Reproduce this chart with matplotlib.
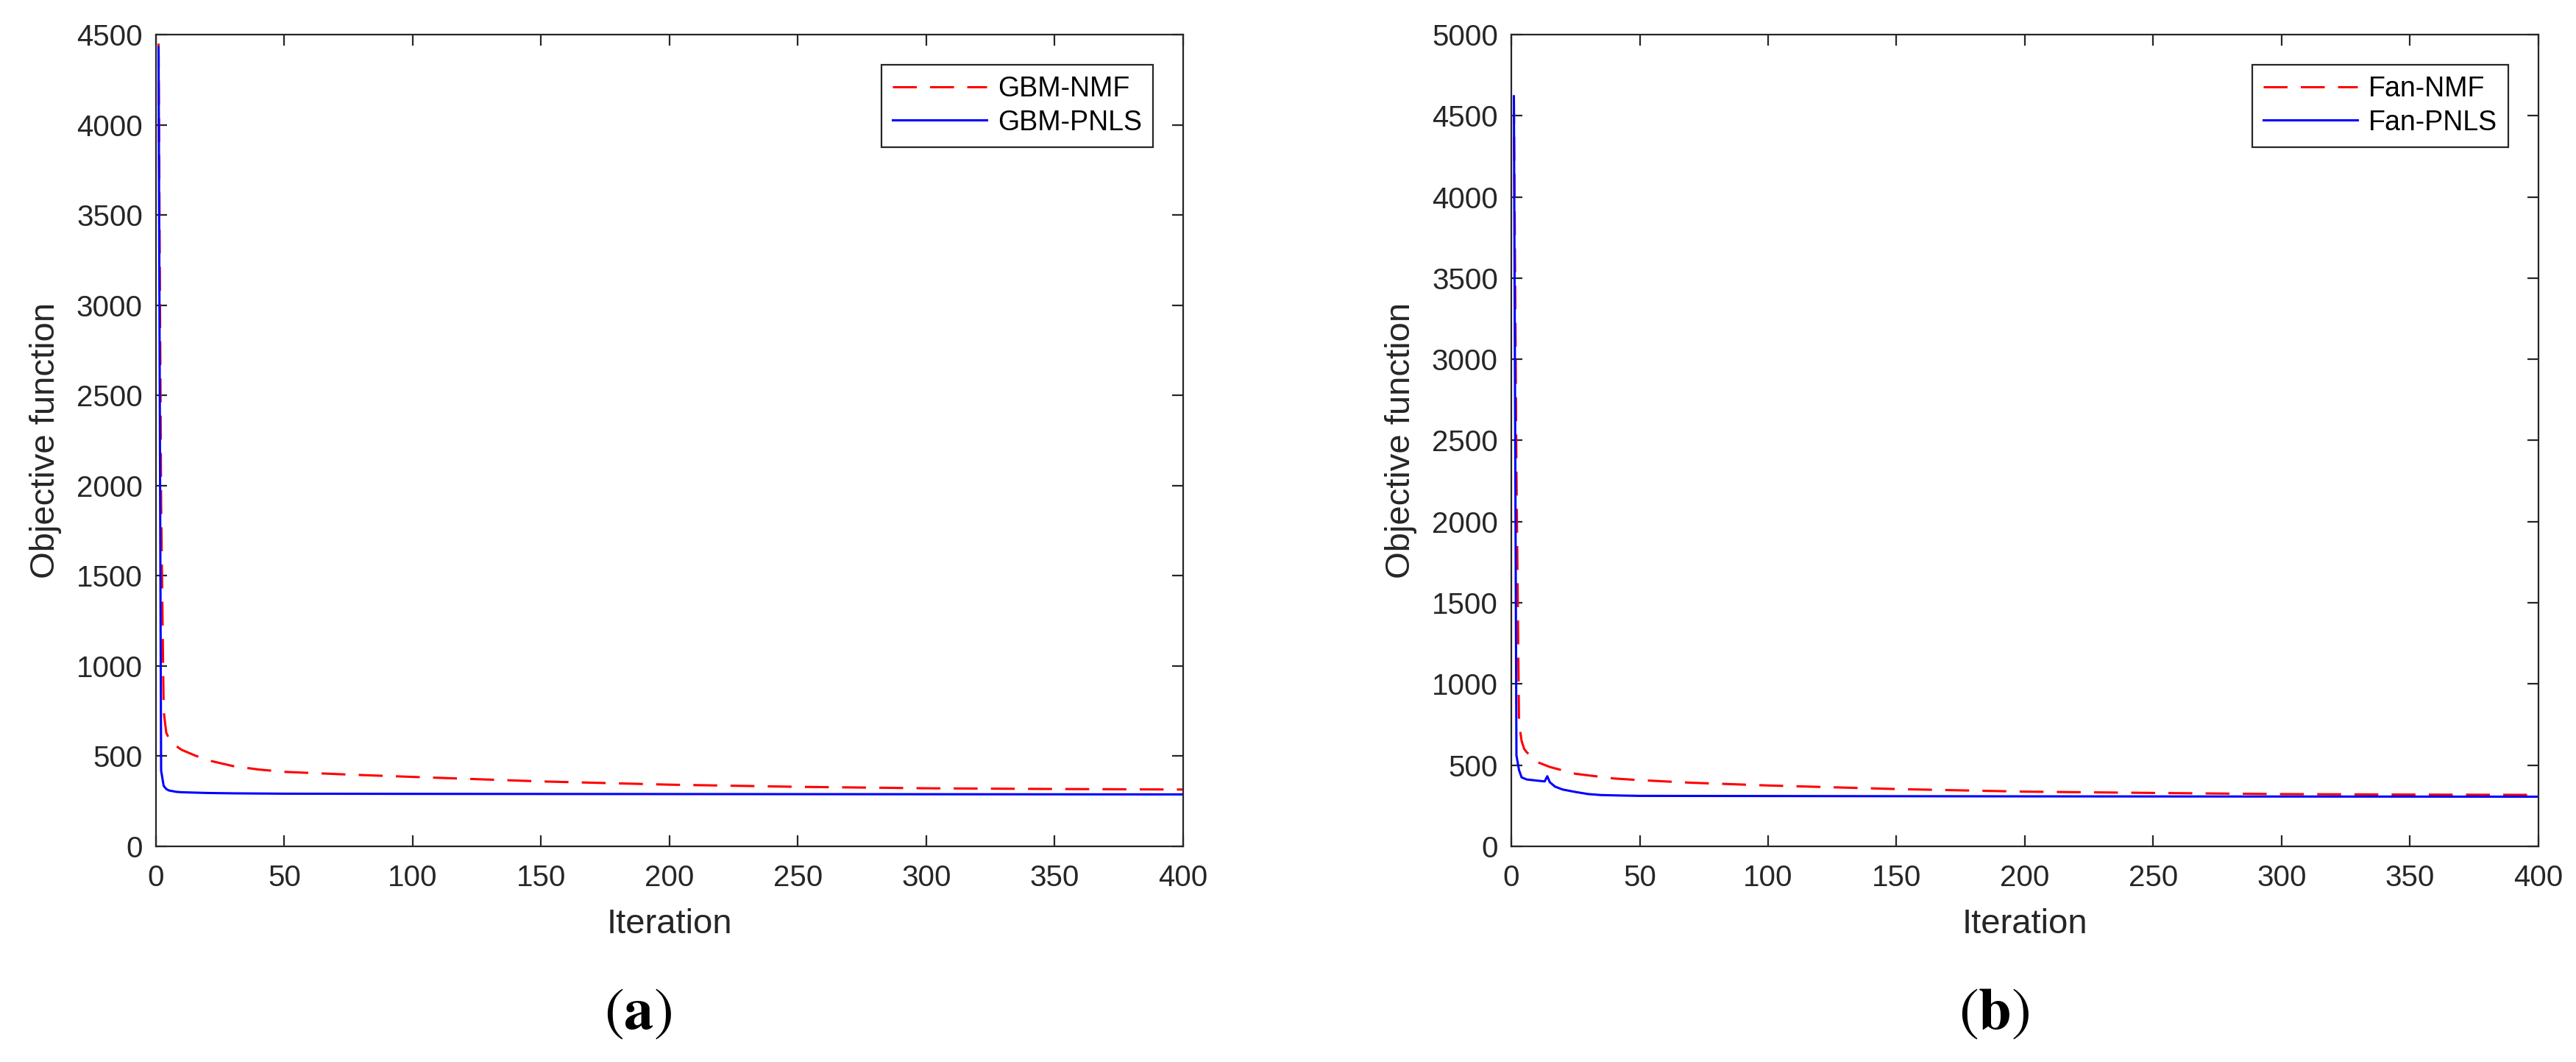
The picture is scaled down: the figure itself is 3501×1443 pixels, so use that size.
import matplotlib
matplotlib.use("Agg")
import matplotlib.pyplot as plt

# (a) GBM data
iter_a_nmf = [1, 2, 3, 4, 5, 7, 10, 15, 20, 30, 40, 50, 75, 100, 150, 200, 250, 300, 350, 400]
obj_a_nmf = [4450, 1900, 750, 630, 600, 565, 535, 505, 478, 445, 426, 413, 398, 385, 360, 342, 330, 322, 318, 315]
iter_a_pnls = [1, 2, 3, 4, 5, 8, 10, 15, 20, 30, 50, 100, 200, 300, 400]
obj_a_pnls = [4430, 420, 335, 318, 310, 302, 300, 298, 296, 294, 292, 291, 290, 289, 288]

# (b) Fan data
iter_b_nmf = [1, 2, 3, 4, 5, 6, 10, 15, 25, 40, 50, 70, 100, 125, 150, 175, 200, 250, 300, 350, 400]
obj_b_nmf = [4600, 2300, 760, 650, 600, 580, 520, 489, 447, 418, 408, 392, 375, 364, 353, 345, 337, 329, 322, 319, 317]
iter_b_pnls = [1, 2, 3, 4, 6, 10, 13, 14, 15, 17, 20, 25, 30, 35, 43, 50, 100, 150, 200, 300, 400]
obj_b_pnls = [4620, 560, 470, 425, 412, 405, 400, 432, 395, 368, 350, 335, 322, 316, 313, 311, 310, 309, 308, 307, 306]

x_ticks = list(range(0, 401, 50))
y_ticks_a = list(range(0, 4501, 500))
y_ticks_b = list(range(0, 5001, 500))

AX_COLOR = '#262626'

plt.rcParams['font.family'] = ['Liberation Sans', 'DejaVu Sans']
plt.rcParams['mathtext.fontset'] = 'stix'
plt.rcParams['lines.scale_dashes'] = False

fig = plt.figure(figsize=(35.01, 14.43), dpi=100)
fig.patch.set_facecolor('white')

panels = [
    (0.06055, iter_a_nmf, obj_a_nmf, iter_a_pnls, obj_a_pnls, 'GBM', y_ticks_a, 4500, r'$(\mathbf{a})$', 0.2476),
    (0.58669, iter_b_nmf, obj_b_nmf, iter_b_pnls, obj_b_pnls, 'Fan', y_ticks_b, 5000, r'$(\mathbf{b})$', 0.7741),
]

for x0, xn, yn, xp, yp, name, yt, ymax, tag, tag_x in panels:
    ax = fig.add_axes([x0, 0.20305, 0.39874, 0.76438])
    ax.plot(xn, yn, color='red', linewidth=2.2, linestyle=(0, (23.4, 13)), label=name + '-NMF')
    ax.plot(xp, yp, color='blue', linewidth=2.2, label=name + '-PNLS')
    ax.set_xlim(0, 400)
    ax.set_ylim(0, ymax)
    ax.set_xticks(x_ticks)
    ax.set_yticks(yt)
    for s in ax.spines.values():
        s.set_color(AX_COLOR)
        s.set_linewidth(1.6)
    ax.tick_params(direction='in', length=11, width=1.6, color=AX_COLOR,
                   labelcolor=AX_COLOR, labelsize=29, top=True, right=True)
    ax.tick_params(axis='x', pad=17)
    ax.tick_params(axis='y', pad=13)
    ax.set_xlabel('Iteration', fontsize=34, color=AX_COLOR)
    ax.set_ylabel('Objective function', fontsize=34, color=AX_COLOR)
    ax.xaxis.set_label_coords(0.5, -0.076)
    ax.yaxis.set_label_coords(-0.092, 0.5)
    leg = ax.legend(loc='upper right', fontsize=27, frameon=True, fancybox=False,
                    framealpha=1, edgecolor=AX_COLOR, borderaxespad=1.1,
                    handlelength=3.4, handletextpad=0.4, borderpad=0.4,
                    labelspacing=0.25)
    leg.get_frame().set_linewidth(1.6)
    fig.text(tag_x, 0.0457, tag, fontsize=58, ha='center', va='center', color='black')

fig.savefig('out.png', dpi=100, facecolor='white')
